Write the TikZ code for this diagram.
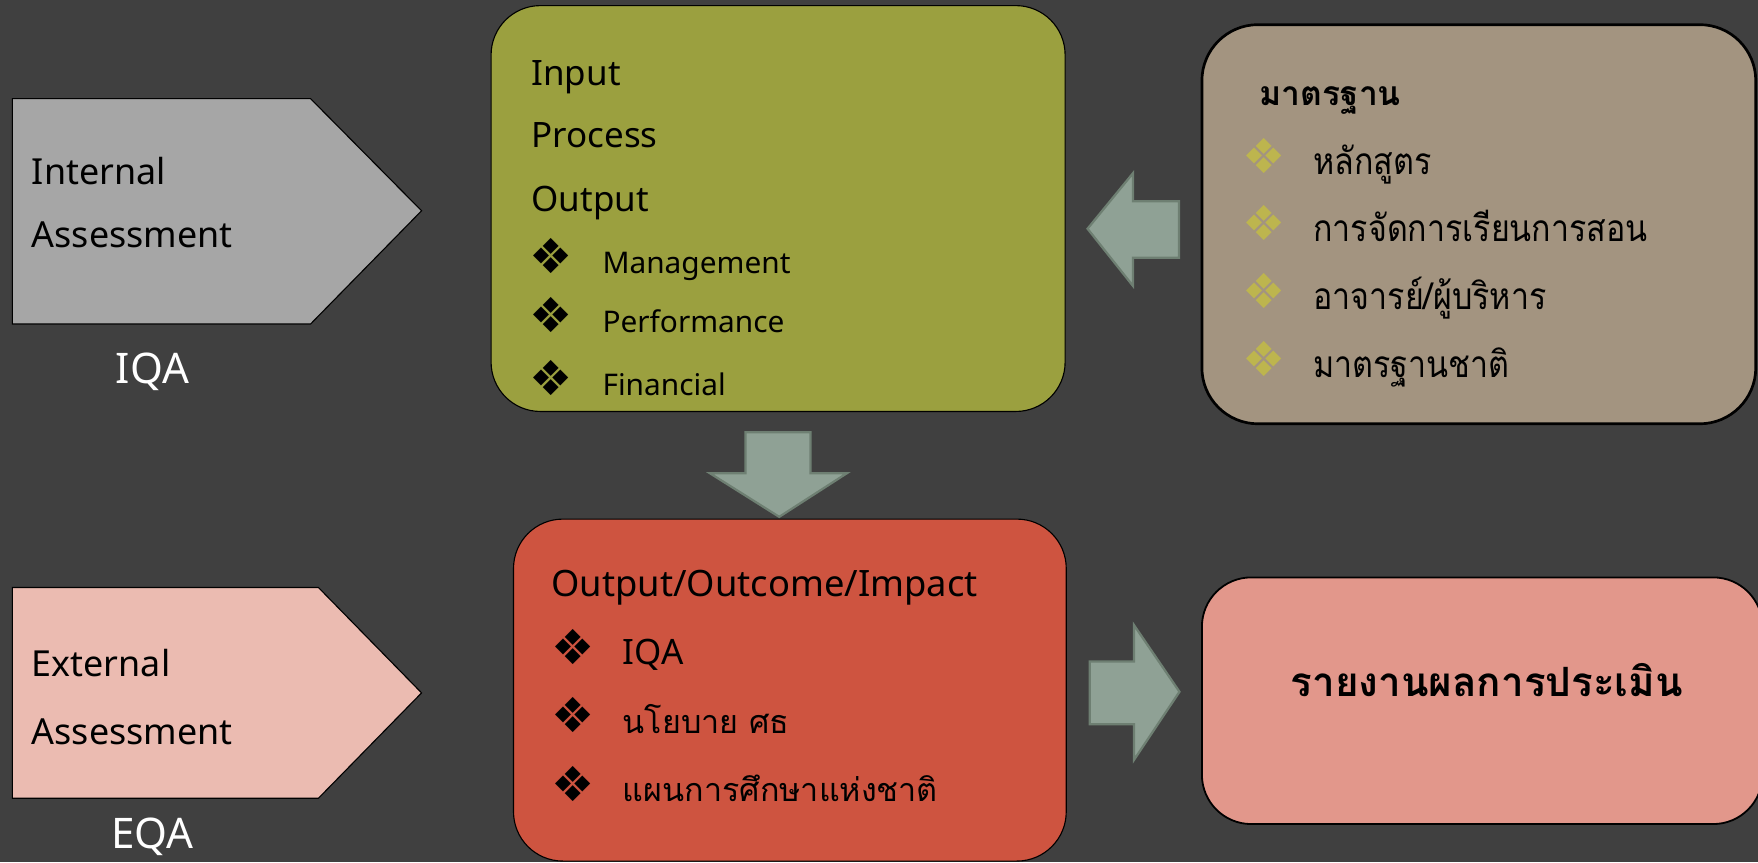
\documentclass[tikz,border=0pt]{standalone}
\usepackage{fontspec}
\setmainfont{Noto Sans}
\newfontfamily\thai[Script=Thai]{Loma}
\newfontfamily\thaic[Script=Thai,FakeStretch=0.87]{Loma}
\newfontfamily\sym{DejaVu Sans}
\definecolor{bg}{HTML}{404040}
\definecolor{iqafill}{HTML}{A6A6A6}
\definecolor{eqafill}{HTML}{EBBBB1}
\definecolor{olive}{HTML}{9BA03F}
\definecolor{tan}{HTML}{A39480}
\definecolor{brick}{HTML}{CE5440}
\definecolor{salmon}{HTML}{E2978B}
\definecolor{arrfill}{HTML}{8FA195}
\definecolor{arrline}{HTML}{6E7F72}
\definecolor{bulyel}{HTML}{BDB54E}
\newcommand{\bul}{{\sym\char"2756}}
\tikzset{
  pent/.style={draw=black, line width=0.5pt},
  box/.style={draw=black, line width=0.5pt, rectangle, rounded corners=22pt, inner sep=0pt},
  blk/.style={fill=arrfill, draw=arrline, line width=1pt, line join=miter},
  lbl/.style={inner sep=0pt, anchor=base west, font=\fontsize{16}{20}\selectfont},
  wlab/.style={inner sep=0pt, anchor=base, text=white, font=\fontsize{18.8}{22}\selectfont},
  hd/.style={inner sep=0pt, anchor=base west, font=\fontsize{15.6}{19}\selectfont},
  sub/.style={inner sep=0pt, anchor=base west, font=\fontsize{13.3}{16}\selectfont},
  th/.style={inner sep=0pt, anchor=base west, font=\thaic\fontsize{16.5}{18}\selectfont},
  thr/.style={inner sep=0pt, anchor=base west, font=\thai\fontsize{14.4}{18}\selectfont},
  bulb/.style={inner sep=0pt, anchor=center, font=\fontsize{21.5}{22}\selectfont},
}
\begin{document}
\begin{tikzpicture}[x=0.5pt,y=-0.5pt]
\fill[bg] (0,0) rectangle (1568,769);
\useasboundingbox (0,0) rectangle (1568,769);

% pentagons
\draw[pent, fill=iqafill] (11,88) -- (277,88) -- (376,188) -- (277,289) -- (11,289) -- cycle;
\draw[pent, fill=eqafill] (11,524) -- (284,524) -- (376,618) -- (284,712) -- (11,712) -- cycle;
\node[lbl] (int) at (28,165) {Internal};
\node[lbl] (ias) at (28,221) {Assessment};
\node[wlab] (iqa) at (136,342.5) {IQA};
\node[lbl] (ext) at (28,603) {External};
\node[lbl] (eas) at (28,664) {Assessment};
\node[wlab] (eqa) at (136,756.5) {EQA};

% boxes
\node[box, fill=olive, minimum width=256pt, minimum height=181pt] (green) at (694,186) {};
\node[box, fill=tan, line width=1.2pt, rounded corners=25pt, minimum width=247pt, minimum height=178pt] (brown) at (1319,200) {};
\node[box, fill=brick, minimum width=246.5pt, minimum height=152.5pt] (red) at (704.5,615.5) {};
\node[box, fill=salmon, line width=0.8pt, minimum width=250pt, minimum height=110pt] (pink) at (1322,625) {};

% green content
\node[hd] (in) at (473.6,76) {Input};
\node[hd] (pr) at (473.6,132) {Process};
\node[hd] (out) at (473.6,189) {Output};
\node[bulb] (g1) at (491.5,228) {\bul};
\node[bulb] (g2) at (491.5,281) {\bul};
\node[bulb] (g3) at (491.5,337) {\bul};
\node[sub] (man) at (537,244) {Management};
\node[sub] (per) at (537,297) {Performance};
\node[sub] (fin) at (537,353) {Financial};

% brown content
\node[th, font=\thai\bfseries\fontsize{15}{18}\selectfont] (std) at (1123,93.7) {มาตรฐาน};
\node[bulb, text=bulyel] (b1) at (1127.5,139) {\bul};
\node[bulb, text=bulyel] (b2) at (1127.5,198.5) {\bul};
\node[bulb, text=bulyel] (b3) at (1127.5,259.5) {\bul};
\node[bulb, text=bulyel] (b4) at (1127.5,320) {\bul};
\node[th] (c1) at (1171,156) {หลักสูตร};
\node[th] (c2) at (1171,215.5) {การจัดการเรียนการสอน};
\node[th] (c3) at (1171,276.5) {อาจารย์/ผู้บริหาร};
\node[th] (c4) at (1171,337) {มาตรฐานชาติ};

% red content
\node[hd, font=\fontsize{16.2}{19}\selectfont] (ooi) at (491.5,532) {Output/Outcome/Impact};
\node[bulb] (r1) at (511.5,577) {\bul};
\node[bulb] (r2) at (511.5,638) {\bul};
\node[bulb] (r3) at (511.5,699) {\bul};
\node[hd] (riqa) at (555,593) {IQA};
\node[thr] (pol) at (555,654) {นโยบาย ศธ};
\node[thr] (plan) at (555,715) {แผนการศึกษาแห่งชาติ};

% pink content
\node[inner sep=0pt, anchor=base, font=\thai\bfseries\fontsize{18}{22}\selectfont] (rep) at (1326,621) {รายงานผลการประเมิน};

% block arrows
\draw[blk] (970,204) -- (1010.5,154.5) -- (1010.5,179.5) -- (1051.5,179.5) -- (1051.5,230) -- (1010.5,230) -- (1010.5,255) -- cycle;
\draw[blk] (665,385.5) -- (723,385.5) -- (723,422) -- (755.5,422) -- (695,461) -- (633,422) -- (665,422) -- cycle;
\draw[blk] (972,590) -- (1011.4,590) -- (1011.4,557.5) -- (1052,617) -- (1011.4,677.8) -- (1011.4,646) -- (972,646) -- cycle;
\end{tikzpicture}
\end{document}
